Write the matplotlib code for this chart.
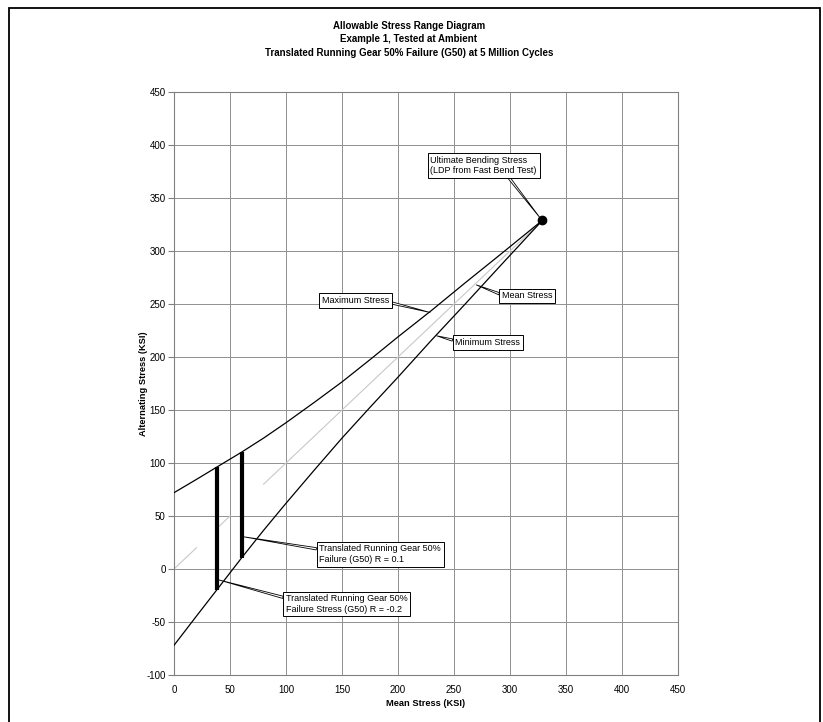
import numpy as np
import matplotlib
matplotlib.use("Agg")
import matplotlib.pyplot as plt
from matplotlib.patches import Rectangle

plt.rcParams['font.family'] = ['Liberation Sans', 'DejaVu Sans']
plt.rcParams['axes.unicode_minus'] = False

# mean stress (KSI) along the curves
mean_pts = [0, 20, 38, 60, 80, 100, 125, 150, 175, 200, 230, 260, 290, 329]
# maximum / minimum stress
max_stress = [72, 84.5, 96, 110, 123.5, 138, 157, 176.5, 197.5, 219, 244, 270, 295.5, 329]
min_stress = [-72, -44.5, -20, 10, 36.5, 62, 93, 123.5, 152.5, 181, 216, 250, 284.5, 329]

# gray mean stress line (broken where the series has no points)
mean_line_x = [0, 20, np.nan, 40, 50, np.nan, 80, 329]
mean_line_y = [0, 20, np.nan, 40, 50, np.nan, 80, 329]

# G50 ranges: mean stress, min, max
g50_mean = [38, 60.5]
g50_min = [-20, 10]
g50_max = [96, 110.5]

ultimate = (329, 329)

title_lines = ["Allowable Stress Range Diagram",
               "Example 1, Tested at Ambient",
               "Translated Running Gear 50% Failure (G50) at 5 Million Cycles"]

fig = plt.figure(figsize=(8.23, 7.22), dpi=100)
ax = fig.add_axes([174 / 823, 1 - 675 / 722, 504 / 823, 583 / 722])

ax.plot(mean_line_x, mean_line_y, color='#c8c8c8', lw=0.8, zorder=2)
ax.plot(mean_pts, max_stress, color='black', lw=0.9, zorder=3)
ax.plot(mean_pts, min_stress, color='black', lw=0.9, zorder=3)
for m, lo, hi in zip(g50_mean, g50_min, g50_max):
    ax.plot([m, m], [lo, hi], color='black', lw=3, solid_capstyle='butt', zorder=4)
ax.plot([ultimate[0]], [ultimate[1]], 'o', color='black', ms=6, zorder=5)

ax.set_xlim(0, 450)
ax.set_ylim(-100, 450)
ax.set_xticks(np.arange(0, 451, 50))
ax.set_yticks(np.arange(-100, 451, 50))
ax.grid(True, color='#909090', lw=0.7)
ax.set_axisbelow(True)
for sp in ax.spines.values():
    sp.set_color('#808080')
    sp.set_linewidth(0.8)
ax.tick_params(axis='y', length=4, color='#808080', labelsize=7, pad=2)
ax.tick_params(axis='x', length=0, labelsize=7, pad=7)

box = dict(boxstyle='square,pad=0.3', fc='white', ec='black', lw=0.7)


def callout(text, xy, xytext, relpos):
    ax.annotate(text, xy=xy, xytext=xytext, ha='left', va='center',
                fontsize=6.5, bbox=box, zorder=6,
                arrowprops=dict(arrowstyle='wedge,tail_width=0.25,shrink_factor=0.5',
                                fc='white', ec='black', lw=0.6, relpos=relpos,
                                shrinkA=0, shrinkB=0))


callout("Ultimate Bending Stress\n(LDP from Fast Bend Test)", (327, 331), (229, 380.5), (0.72, 0))
callout("Maximum Stress", (228.6, 242), (132, 253.3), (1, 0.3))
callout("Mean Stress", (270, 268), (293, 257.7), (0, 0.6))
callout("Minimum Stress", (234.5, 220), (251.3, 213.5), (0, 0.7))
callout("Translated Running Gear 50%\nFailure (G50) R = 0.1", (61.5, 30.5), (129.8, 14), (0, 0.75))
callout("Translated Running Gear 50%\nFailure Stress (G50) R = -0.2", (39, -10), (100, -33), (0, 0.8))

for i, line in enumerate(title_lines):
    fig.text(409 / 823, 1 - (26.3 + 13.2 * i) / 722, line, ha='center', va='center',
             fontsize=7, fontweight='bold')
fig.text(426 / 823, 1 - 703 / 722, "Mean Stress (KSI)", ha='center', va='center',
         fontsize=6.7, fontweight='bold')
fig.text(143 / 823, 1 - 383.5 / 722, "Alternating Stress (KSI)", ha='center', va='center',
         rotation=90, fontsize=6.7, fontweight='bold')

fig.patches.append(Rectangle((9 / 823, -0.02), 811 / 823, 1.02 - 8 / 722,
                             transform=fig.transFigure, fill=False, ec='black', lw=1.3))

fig.savefig('out.png', dpi=100)
